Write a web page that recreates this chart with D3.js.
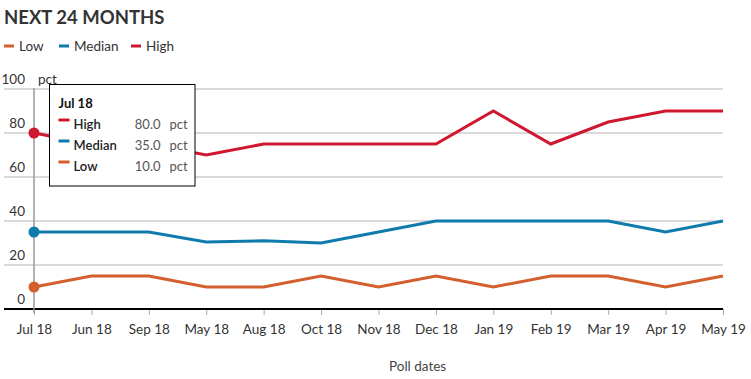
<!DOCTYPE html>
<html><head><meta charset="utf-8">
<script src="https://cdn.jsdelivr.net/npm/d3@7"></script>
<style>
body{margin:0;background:#fff;font-family:"Source Sans Pro",Lato,"Open Sans",sans-serif;}
svg text{font-family:"Source Sans Pro",Lato,"Open Sans",sans-serif;}
</style></head>
<body><svg id="c" width="751" height="379"></svg>
<script>
const categories = ["Jul 18","Jun 18","Sep 18","May 18","Aug 18","Oct 18","Nov 18","Dec 18","Jan 19","Feb 19","Mar 19","Apr 19","May 19"];
const low    = [10,15,15,10,10,15,10,15,10,15,15,10,15];
const median = [35,35,35,30.5,31,30,35,40,40,40,40,35,40];
const high   = [80,75,75,70,75,75,75,75,90,75,85,90,90];
const yTicks = [0,20,40,60,80,100];
const seriesNames = ["Low","Median","High"];
const colors = {Low:"#d35f2c", Median:"#0f7bad", High:"#cf1830"};
const series = [{name:"Low",values:low},{name:"Median",values:median},{name:"High",values:high}];

const svg = d3.select("#c");
const x = d3.scalePoint().domain(categories).range([34,723]);
const y = d3.scaleLinear().domain([0,100]).range([309,89]);

// title
svg.append("text").attr("x",4).attr("y",24).text("NEXT 24 MONTHS")
  .attr("font-size",18.5).attr("font-weight",700).attr("fill","#333");

// legend
const legendX = [4, 59, 131];
seriesNames.forEach((n,i)=>{
  const g = svg.append("g").attr("transform",`translate(${legendX[i]},46)`);
  g.append("rect").attr("x",0).attr("y",-1.5).attr("width",10).attr("height",3).attr("fill",colors[n]);
  g.append("text").attr("x",15).attr("y",5).text(n).attr("font-size",13.5).attr("fill","#333");
});

// gridlines
svg.append("g").selectAll("line").data(yTicks.filter(d=>d>0)).join("line")
  .attr("x1",4).attr("x2",723).attr("y1",d=>y(d)).attr("y2",d=>y(d))
  .attr("stroke","#cccccc").attr("stroke-width",1.5);

// y tick labels
svg.append("g").selectAll("text").data(yTicks).join("text")
  .attr("x",25).attr("y",d=>y(d)-5).attr("text-anchor","end")
  .attr("font-size",13.5).attr("fill","#333").text(d=>d);
svg.append("text").attr("x",38).attr("y",y(100)-5).text("pct").attr("font-size",13.5).attr("fill","#333");

// x axis
const xAxis = d3.axisBottom(x).tickSize(6).tickPadding(9);
const gx = svg.append("g").attr("transform","translate(0,309)").call(xAxis);
gx.select(".domain").remove();
gx.selectAll(".tick line").attr("stroke","#aaa");
gx.selectAll(".tick text").attr("font-size",13.5).attr("fill","#333").attr("font-family",null);
svg.append("line").attr("x1",4).attr("x2",723).attr("y1",309).attr("y2",309)
  .attr("stroke","#000").attr("stroke-width",2);

svg.append("text").attr("x",389).attr("y",371).text("Poll dates").attr("font-size",13.5).attr("fill","#444");

// crosshair
svg.append("line").attr("x1",x(categories[0])).attr("x2",x(categories[0])).attr("y1",88).attr("y2",313)
  .attr("stroke","#999").attr("stroke-width",1.5);

// lines
const line = d3.line().x((d,i)=>x(categories[i])).y(d=>y(d));
series.forEach(s=>{
  svg.append("path").datum(s.values).attr("d",line).attr("fill","none")
    .attr("stroke",colors[s.name]).attr("stroke-width",3).attr("stroke-linejoin","miter");
});
// hover dots
series.forEach(s=>{
  svg.append("circle").attr("cx",x(categories[0])).attr("cy",y(s.values[0])).attr("r",5.5).attr("fill",colors[s.name]);
});

// tooltip
const tt = svg.append("g").attr("transform","translate(49.5,84.5)");
tt.append("rect").attr("width",145.5).attr("height",101.5).attr("fill","#fff").attr("stroke","#000").attr("stroke-width",1);
tt.append("text").attr("x",9).attr("y",23).text(categories[0]).attr("font-size",13).attr("font-weight",700).attr("fill","#111");
["High","Median","Low"].forEach((n,i)=>{
  const s = series.find(d=>d.name===n);
  const yy = 44 + i*21;
  tt.append("rect").attr("x",9).attr("y",yy-10).attr("width",11).attr("height",3).attr("fill",colors[n]);
  tt.append("text").attr("x",24).attr("y",yy).text(n).attr("font-size",13).attr("font-weight",600).attr("fill","#222");
  tt.append("text").attr("x",111).attr("y",yy).attr("text-anchor","end").text(s.values[0].toFixed(1)).attr("font-size",13).attr("fill","#555");
  tt.append("text").attr("x",120).attr("y",yy).text("pct").attr("font-size",13).attr("fill","#555");
});
</script></body></html>
